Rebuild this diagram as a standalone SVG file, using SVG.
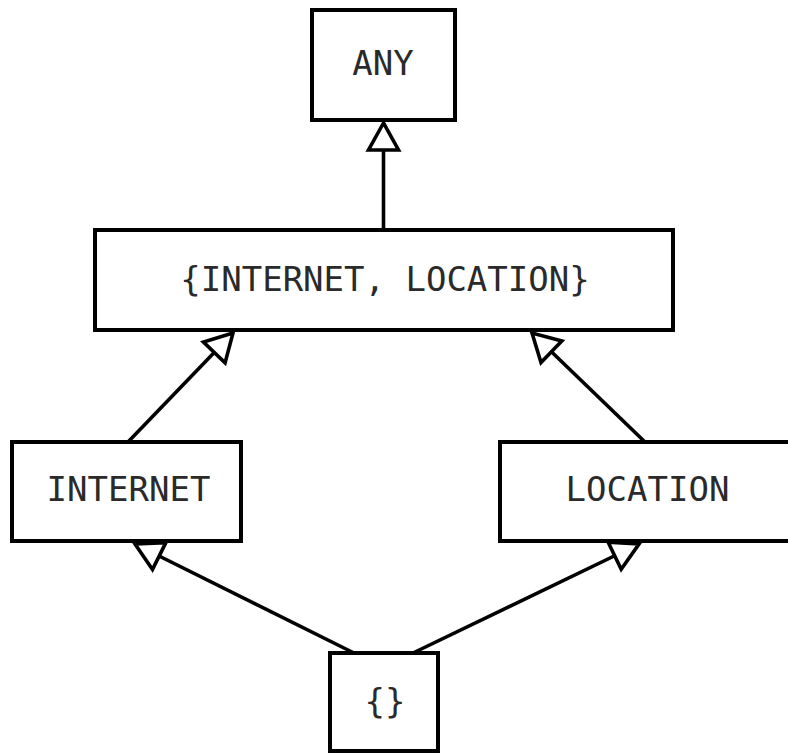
<svg xmlns="http://www.w3.org/2000/svg" width="788" height="755" viewBox="0 0 788 755">
  <style>
    .box { fill: #ffffff; stroke: #000000; stroke-width: 4; }
    .label { font-family: "DejaVu Sans Mono", "Liberation Mono", monospace; font-size: 34px; fill: #2a2a2a; text-anchor: middle; }
    .edge { fill: none; stroke: #000000; stroke-width: 3.6; marker-end: url(#hollow); }
  </style>
  <defs>
    <marker id="hollow" markerUnits="userSpaceOnUse" markerWidth="40" markerHeight="40" viewBox="-32 -20 36 40" refX="0" refY="0" orient="auto" overflow="visible">
      <path d="M0,0 L-27,-15 L-27,15 Z" fill="#ffffff" stroke="#000000" stroke-width="3.6" stroke-linejoin="miter"/>
    </marker>
  </defs>
  <rect x="0" y="0" width="788" height="755" fill="#ffffff"/>
  <g id="connectors">
    <line class="edge" x1="383.5" y1="230" x2="383.5" y2="123"/>
    <line class="edge" x1="128" y1="442" x2="233" y2="333"/>
    <line class="edge" x1="645" y1="442" x2="532" y2="333"/>
    <line class="edge" x1="354" y1="653" x2="135" y2="544"/>
    <line class="edge" x1="413" y1="653" x2="639" y2="544"/>
  </g>
  <g id="node-any">
    <rect class="box" x="312" y="10" width="143" height="110"/>
    <text class="label" x="383" y="75">ANY</text>
  </g>
  <g id="node-internet-location">
    <rect class="box" x="95" y="230" width="578" height="100"/>
    <text class="label" x="385" y="291">{INTERNET, LOCATION}</text>
  </g>
  <g id="node-internet">
    <rect class="box" x="12" y="442" width="229" height="99"/>
    <text class="label" x="128.5" y="501">INTERNET</text>
  </g>
  <g id="node-location">
    <rect class="box" x="500" y="442" width="296" height="99"/>
    <text class="label" x="647.5" y="501">LOCATION</text>
  </g>
  <g id="node-empty">
    <rect class="box" x="330" y="653" width="108" height="98"/>
    <text class="label" x="385" y="713">{}</text>
  </g>
</svg>
